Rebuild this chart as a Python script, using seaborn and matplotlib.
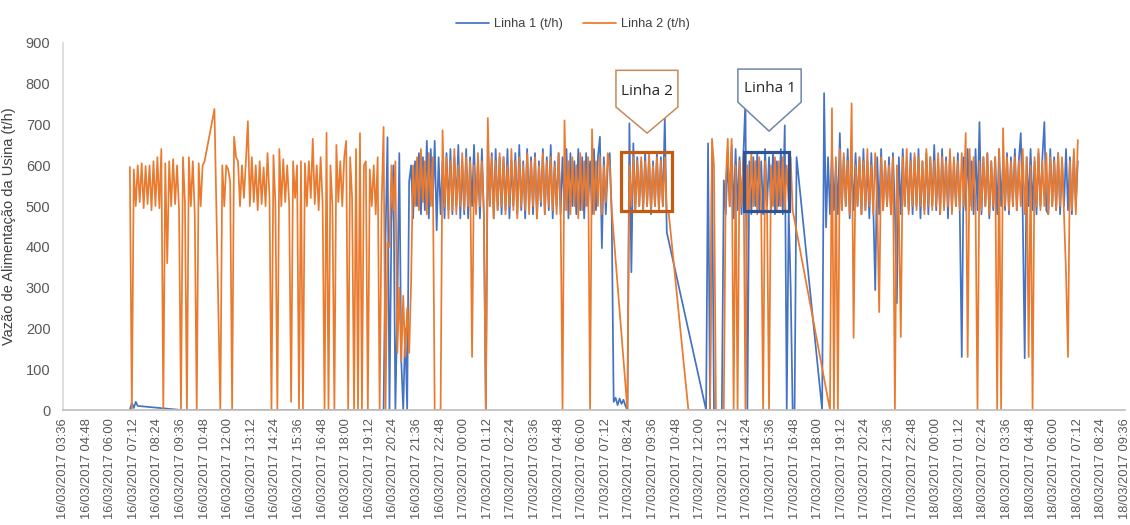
import pandas as pd
import matplotlib
matplotlib.use('Agg')
import matplotlib.pyplot as plt
import matplotlib.dates as mdates
from matplotlib.patches import Rectangle, Polygon
import seaborn as sns

N = None  # sem leitura no intervalo

# leituras a cada 6 min a partir de 16/03/2017 07:00 (uma linha = 1 hora)
inicio = '2017-03-16 07:00'
passo = '6min'

linha1_16 = [
    0, 18, 5, 20, 10, N, N, N, N, N,                       # 07h
    N, N, N, N, N, N, N, N, N, N,                          # 08h
    N, N, N, N, N, N, 0, 0, 0, 0,                          # 09h
    0, 0, 0, 0, 0, 0, 0, 0, 0, 0,                          # 10h
    0, 0, 0, 0, 0, 0, 0, 0, 0, 0,                          # 11h
    0, 0, 0, 0, 0, 0, 0, 0, 0, 0,                          # 12h
    0, 0, 0, 0, 0, 0, 0, 0, 0, 0,                          # 13h
    0, 0, 0, 0, 0, 0, 0, 0, 0, 0,                          # 14h
    0, 0, 0, 0, 0, 0, 0, 0, 0, 0,                          # 15h
    0, 0, 0, 0, 0, 0, 0, 0, 0, 0,                          # 16h
    0, 0, 0, 0, 0, 0, 0, 0, 0, 0,                          # 17h
    0, 0, 0, 0, 0, 0, 0, 0, 0, 0,                          # 18h
    0, 0, 0, 0, 0, 0, 0, 0, 0, 0,                          # 19h
    420, 669, 0, 460, 600, 0, 250, 630, 120, 0,            # 20h
    200, 0, 560, 600, 470, 610, 500, 630, 480, 620,        # 21h
    490, 660, 470, 640, 500, 660, 441, 620, 480, 610,      # 22h
    470, 630, 490, 640, 480, 620, 500, 650, 470, 610,      # 23h
]
linha1_17 = [
    480, 640, 470, 620, 500, 650, 490, 610, 470, 640,      # 00h
    480, 0, 667, 500, 630, 470, 640, 490, 620, 480,        # 01h
    620, 490, 640, 470, 610, 500, 630, 480, 650, 490,      # 02h
    610, 470, 640, 500, 620, 480, 630, 470, 610, 500,      # 03h
    640, 480, 620, 490, 650, 470, 610, 500, 630, 480,      # 04h
    620, 490, 640, 470, 630, 500, 610, 480, 640, 490,      # 05h
    620, 470, 630, 500, 610, 480, 640, 490, 620, 670,      # 06h
    397, 620, 480, 600, 630, 480, 20, 30, 12, 28,          # 07h
    15, 25, 10, 0, 703, 338, 654, 490, 620, 500,           # 08h
    610, 490, 630, 500, 620, 480, 610, 500, 630, 490,      # 09h
    620, 500, 718, 436, N, N, N, N, N, N,                  # 10h
    N, N, N, N, N, N, N, N, N, N,                          # 11h
    N, N, N, 0, 654, 0, 620, 0, 0, 0,                      # 12h
    0, 0, 563, 480, 620, 500, 650, 470, 640, 490,          # 13h
    620, 480, 630, 760, 0, 610, 480, 620, 500, 630,        # 14h
    490, 610, 480, 640, 500, 620, 490, 630, 480, 610,      # 15h
    500, 640, 480, 698, 0, 490, 300, 0, 0, 620,            # 16h
    N, N, N, N, N, N, N, N, N, N,                          # 17h
    N, N, 0, 777, 448, 620, 480, 640, 490, 610,            # 18h
    480, 679, 490, 620, 500, 640, 470, 610, 490, 630,      # 19h
    500, 620, 480, 640, 490, 610, 470, 630, 500, 294,      # 20h
    620, 480, 640, 490, 610, 500, 620, 480, 630, 490,      # 21h
    262, 620, 480, 640, 500, 610, 490, 630, 480, 620,      # 22h
    500, 640, 470, 610, 490, 630, 480, 620, 500, 650,      # 23h
]
linha1_18 = [
    490, 610, 480, 640, 500, 620, 470, 630, 490, 610,      # 00h
    500, 630, 480, 130, 620, 490, 640, 500, 610, 480,      # 01h
    640, 490, 706, 480, 620, 500, 630, 470, 610, 490,      # 02h
    620, 480, 640, 500, 610, 490, 630, 480, 620, 500,      # 03h
    640, 490, 610, 679, 480, 127, 620, 500, 640, 490,      # 04h
    610, 480, 630, 500, 620, 706, 490, 480, 640, 500,      # 05h
    620, 490, 630, 480, 610, 500, 640, 490, 620, 480,      # 06h
    630, 500, 610,                                         # 07h
]

linha2_16 = [
    596, 0, 590, 500, 600, 510, 605, 495, 598, 505,        # 07h
    600, 490, 610, 500, 620, 495, 640, 0, 605, 360,        # 08h
    610, 500, 615, 505, 600, 490, 0, 620, 510, 0,          # 09h
    620, 500, 610, 480, 0, 605, 500, 600, 610, N,          # 10h
    N, N, N, 738, N, N, 0, 600, 500, 600,                  # 11h
    590, 560, 0, 670, 620, 610, 500, 600, 520, 610,        # 12h
    708, 500, 620, 510, 600, 490, 610, 505, 595, 500,      # 13h
    630, 520, 0, 625, 505, 0, 640, 500, 615, 510,          # 14h
    600, 505, 20, 610, 520, 600, 0, 610, 0, 605,           # 15h
    500, 610, 520, 665, 505, 600, 490, 620, 510, 0,        # 16h
    680, 0, 600, 500, 0, 650, 510, 610, 500, 620,          # 17h
    660, 0, 620, 520, 0, 640, 0, 679, 0, 600,              # 18h
    610, 0, 590, 500, 600, 480, 620, 0, 500, 694,          # 19h
    0, 410, 400, 600, 490, 610, 140, 300, 120, 280,        # 20h
    130, 250, 140, 310, 600, 500, 620, 490, 640, 510,      # 21h
    610, 480, 630, 500, 620, 0, 0, 0, 0, 686,              # 22h
    500, 620, 470, 610, 490, 640, 480, 600, 500, 630,      # 23h
]
linha2_17 = [
    490, 620, 500, 610, 130, 600, 480, 630, 500, 610,      # 00h
    480, 0, 716, 500, 620, 470, 610, 490, 630, 500,        # 01h
    620, 480, 600, 500, 640, 490, 610, 470, 620, 500,      # 02h
    600, 490, 630, 480, 610, 500, 620, 470, 600, 510,      # 03h
    630, 480, 610, 500, 620, 490, 600, 480, 630, 500,      # 04h
    0, 710, 490, 610, 480, 620, 500, 600, 470, 630,        # 05h
    490, 610, 500, 620, 0, 688, 480, 610, 500, 620,        # 06h
    480, 600, 510, 630, 600, 490, N, N, N, N,              # 07h
    N, N, N, 0, 600, 500, 620, 490, 610, 500,              # 08h
    620, 490, 610, 500, 630, 490, 600, 500, 620, 490,      # 09h
    610, 500, 620, 490, 483, N, N, N, N, N,                # 10h
    N, N, N, N, 0, 0, 0, 0, 0, 0,                          # 11h
    0, 0, 0, 0, 0, 0, 665, 600, 0, 0,                      # 12h
    0, 0, 0, 560, 665, 500, 665, 0, 600, 0,                # 13h
    610, 500, 620, 0, 600, 490, 630, 500, 610, 480,        # 14h
    620, 500, 0, 610, 490, 0, 600, 500, 620, 490,          # 15h
    610, 500, 620, 490, 600, 510, 620, 490, N, N,          # 16h
    N, N, N, N, N, N, N, N, N, N,                          # 17h
    N, N, N, N, N, N, 0, 740, 0, 620,                      # 18h
    0, 640, 490, 630, 500, 610, 480, 752, 177, 600,        # 19h
    500, 620, 480, 610, 490, 640, 500, 600, 480, 630,      # 20h
    510, 240, 620, 490, 610, 500, 600, 480, 620, 0,        # 21h
    600, 490, 179, 620, 500, 640, 480, 610, 500, 630,      # 22h
    490, 620, 500, 610, 480, 640, 500, 620, 490, 610,      # 23h
]
linha2_18 = [
    500, 630, 480, 620, 490, 610, 500, 640, 480, 620,      # 00h
    500, 610, 490, 630, 500, 679, 130, 640, 490, 620,      # 01h
    500, 0, 610, 490, 620, 500, 630, 480, 610, 500,        # 02h
    620, 0, 640, 0, 691, 500, 620, 490, 610, 500,          # 03h
    620, 490, 610, 500, 640, 480, 620, 130, 600, 0,        # 04h
    620, 500, 640, 490, 610, 500, 630, 480, 620, 500,      # 05h
    610, 490, 630, 500, 620, 480, 338, 130, 610, 490,      # 06h
    640, 480, 662,                                         # 07h
]

series = ['Linha 1 (t/h)', 'Linha 2 (t/h)']
cores = {'Linha 1 (t/h)': '#4472C4', 'Linha 2 (t/h)': '#E97A2E'}

# destaques: (inicio, fim, vazao min, vazao max)
caixa_linha2 = ('2017-03-17 07:58', '2017-03-17 10:34', 488, 632)
caixa_linha1 = ('2017-03-17 14:14', '2017-03-17 16:31', 488, 632)
# balões: (inicio, fim, base lateral, topo, ponta tempo, ponta vazao)
balao_linha2 = ('2017-03-17 07:43', '2017-03-17 10:52', 743, 833, '2017-03-17 09:18', 679)
balao_linha1 = ('2017-03-17 13:55', '2017-03-17 17:08', 755, 836, '2017-03-17 15:30', 684)


def monta(valores, nome):
    tempos = pd.date_range(inicio, periods=len(valores), freq=passo)
    df = pd.DataFrame({'tempo': tempos,
                       'vazao': pd.to_numeric(pd.Series(valores, dtype=object), errors='coerce'),
                       'serie': nome})
    # excel liga os pontos por cima das falhas
    return df.dropna()


dados = pd.concat([
    monta(linha1_16 + linha1_17 + linha1_18, series[0]),
    monta(linha2_16 + linha2_17 + linha2_18, series[1]),
])

sns.set_theme(style='white')
plt.rcParams['font.family'] = ['Liberation Sans', 'DejaVu Sans']

fig = plt.figure(figsize=(11.3, 5.25), dpi=100)
ax = fig.add_axes([63 / 1130, 1 - 410 / 525, (1125 - 63) / 1130, (410 - 43) / 525])

sns.lineplot(data=dados, x='tempo', y='vazao', hue='serie', hue_order=series,
             palette=cores, estimator=None, sort=True, linewidth=1.25, ax=ax)

ax.set_ylim(0, 900)
ax.set_yticks(range(0, 901, 100))
ax.set_xlim(pd.Timestamp('2017-03-16 03:36'), pd.Timestamp('2017-03-18 09:36'))
ticks = pd.date_range('2017-03-16 03:36', '2017-03-18 09:36', freq='72min')
ax.set_xticks(ticks)
ax.set_xticklabels([t.strftime('%d/%m/%Y %H:%M') for t in ticks], rotation=90,
                   fontsize=9.3, color='#595959')
ax.tick_params(axis='y', labelsize=10.5, labelcolor='#595959', length=0, pad=9)
ax.tick_params(axis='x', length=0, pad=6)
ax.set_xlabel('')
ax.set_ylabel('Vazão de Alimentação da Usina (t/h)', fontsize=10.5, color='#404040', labelpad=7)
ax.grid(False)
for lado in ['top', 'right']:
    ax.spines[lado].set_visible(False)
ax.spines['left'].set_color('#D9D9D9')
ax.spines['bottom'].set_color('#BFBFBF')

# legenda em cima
handles, labels = ax.get_legend_handles_labels()
ax.get_legend().remove()
leg = fig.legend(handles, labels, loc='center', bbox_to_anchor=(0.507, 0.954), ncol=2,
                 frameon=False, fontsize=9.3, handlelength=2.5, handletextpad=0.4,
                 columnspacing=1.6)
for t in leg.get_texts():
    t.set_color('#404040')

# caixas de destaque
for caixa, cor in [(caixa_linha2, '#C55A11'), (caixa_linha1, '#2F5597')]:
    x0 = mdates.date2num(pd.Timestamp(caixa[0]))
    x1 = mdates.date2num(pd.Timestamp(caixa[1]))
    ax.add_patch(Rectangle((x0, caixa[2]), x1 - x0, caixa[3] - caixa[2], fill=False,
                           edgecolor=cor, linewidth=2.3, zorder=5))

# balões
for balao, cor, texto in [(balao_linha2, '#C8895C', 'Linha 2'), (balao_linha1, '#6F86AA', 'Linha 1')]:
    x0 = mdates.date2num(pd.Timestamp(balao[0]))
    x1 = mdates.date2num(pd.Timestamp(balao[1]))
    xp = mdates.date2num(pd.Timestamp(balao[4]))
    pts = [(x0, balao[3]), (x1, balao[3]), (x1, balao[2]), (xp, balao[5]), (x0, balao[2])]
    ax.add_patch(Polygon(pts, closed=True, facecolor='white', edgecolor=cor,
                         linewidth=1.1, zorder=6))
    ax.text((x0 + x1) / 2, (balao[2] + balao[3]) / 2 - 6, texto, ha='center', va='center',
            fontsize=11, color='#262626', zorder=7, family=['Open Sans', 'DejaVu Sans'])

fig.savefig('out.png', dpi=100)
